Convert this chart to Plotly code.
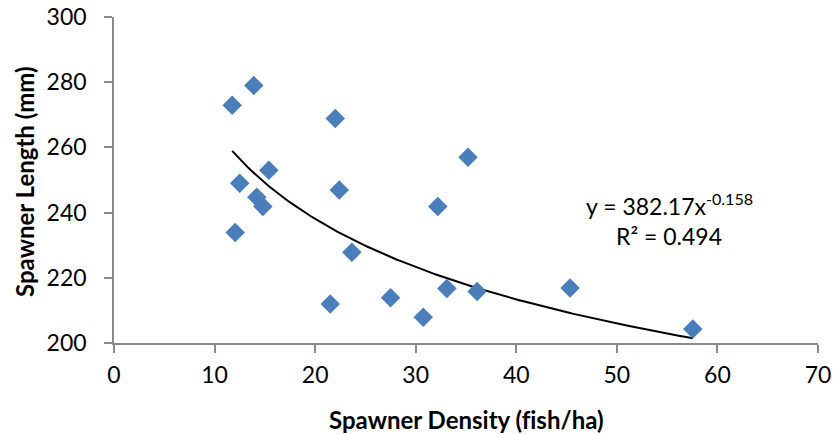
import numpy as np
import plotly.graph_objects as go

# Data
density = [11.75, 13.9, 22.0, 35.2, 15.4, 12.5, 22.4, 14.2, 14.8, 32.2,
           12.05, 23.65, 33.1, 36.1, 21.5, 27.5, 30.75, 45.35, 57.55]
length = [272.9, 279.0, 268.9, 257.0, 253.0, 249.0, 246.9, 244.7, 241.9, 241.9,
          233.9, 227.8, 216.7, 215.8, 212.0, 213.9, 207.9, 216.9, 204.3]

# Power trendline coefficients as printed on the chart
coef_a = 382.17
coef_b = -0.158
r_squared = 0.494

x_ticks = [0, 10, 20, 30, 40, 50, 60, 70]
y_ticks = [200, 220, 240, 260, 280, 300]

# zero-width non-joiner keeps "f" and "i" apart (no ligature), as in the reference
x_title = "Spawner Density (f\u200cish/ha)"
y_title = "Spawner Length (mm)"

xs = np.linspace(min(density), max(density), 200)
ys = coef_a * xs ** coef_b

FONT = "Lato"
AXIS_COLOR = "#8a8a8a"

fig = go.Figure()
fig.add_trace(go.Scatter(
    x=xs, y=ys, mode="lines",
    line=dict(color="black", width=2),
    hoverinfo="skip", showlegend=False,
))
fig.add_trace(go.Scatter(
    x=density, y=length, mode="markers",
    marker=dict(symbol="diamond", size=15, color="#4a7ebb", line=dict(width=0)),
    showlegend=False,
))

fig.add_annotation(
    x=55.2, y=242.4, xref="x", yref="y",
    text=f"y = {coef_a:.2f}x<sup>{coef_b:.3f}</sup>",
    showarrow=False, xanchor="center", yanchor="middle",
    font=dict(family=FONT, size=23, color="black"),
)
fig.add_annotation(
    x=55.2, y=232.7, xref="x", yref="y",
    text=f"R² = {r_squared:.3f}",
    showarrow=False, xanchor="center", yanchor="middle",
    font=dict(family=FONT, size=23, color="black"),
)

# Axis titles
fig.add_annotation(
    x=0.5, y=0, xref="paper", yref="paper", yshift=-76,
    text=f"<b>{x_title}</b>", showarrow=False,
    xanchor="center", yanchor="middle",
    font=dict(family=FONT, size=24, color="black"),
)
fig.add_annotation(
    x=0, y=0.494, xref="paper", yref="paper", xshift=-89,
    text=f"<b>{y_title}</b>", showarrow=False, textangle=-90,
    xanchor="center", yanchor="middle",
    font=dict(family=FONT, size=24, color="black"),
)

axis_common = dict(
    showgrid=False, zeroline=False, showline=True, automargin=False,
    linecolor=AXIS_COLOR, linewidth=1.5,
    ticks="outside", tickcolor=AXIS_COLOR, tickwidth=1.5, ticklen=8,
    tickfont=dict(family=FONT, size=23, color="black"),
)

fig.update_layout(
    width=833, height=434,
    margin=dict(l=114, r=15, t=17, b=91),
    paper_bgcolor="white", plot_bgcolor="white",
    xaxis=dict(
        range=[0, 70], tickvals=x_ticks, ticktext=[str(v) for v in x_ticks],
        ticklabelstandoff=3,
        **axis_common,
    ),
    yaxis=dict(
        range=[200, 300], tickvals=y_ticks, ticktext=[str(v) for v in y_ticks],
        ticklabelstandoff=13,
        **axis_common,
    ),
)

fig.write_html("out.html")
